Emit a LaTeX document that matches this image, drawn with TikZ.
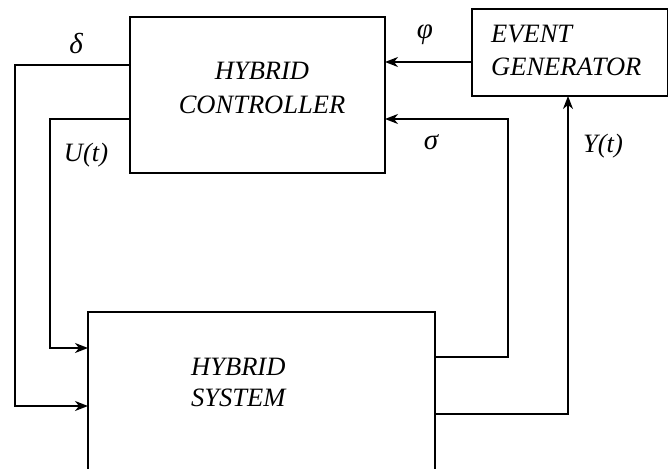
\documentclass[tikz,border=0pt]{standalone}
\usepackage{fontspec}
\setmainfont{Liberation Serif}
\usetikzlibrary{arrows.meta}
\begin{document}
\begin{tikzpicture}[x=1pt,y=-1pt,
  blk/.style={draw,line width=1.8pt,inner sep=0pt},
  wire/.style={line width=1.6pt},
  arr/.style={wire,-{Stealth[length=13pt,width=10pt,inset=4pt]}},
  lbl/.style={font=\fontsize{26.5}{33}\selectfont\itshape,inner sep=0pt,align=left},
  glbl/.style={font=\fontsize{29}{33}\selectfont\itshape,inner sep=0pt}]
\useasboundingbox (0,0) rectangle (668,468);
% boxes
\node[blk,minimum width=255pt,minimum height=156pt] (hc) at (257.5,95) {};
\node[blk,minimum width=196pt,minimum height=87pt] (eg) at (570,52.5) {};
\node[blk,minimum width=347pt,minimum height=170pt] (hs) at (261.5,397) {};
% texts
\node[lbl,align=center,font=\fontsize{26.5}{34}\selectfont\itshape] (thc) at (262,88) {HYBRID\\CONTROLLER};
\node[lbl,anchor=west] (teg) at (491,50) {EVENT\\GENERATOR};
\node[lbl,anchor=west,font=\fontsize{26.5}{31}\selectfont\itshape] (ths) at (191,382) {HYBRID\\SYSTEM};
% coordinates
\coordinate (d0) at (130,65);
\coordinate (d1) at (15,65);
\coordinate (d2) at (15,406);
\coordinate (d3) at (88,406);
\coordinate (u0) at (130,119);
\coordinate (u1) at (50,119);
\coordinate (u2) at (50,348);
\coordinate (u3) at (88,348);
\coordinate (s0) at (435,357);
\coordinate (s1) at (508,357);
\coordinate (s2) at (508,119);
\coordinate (s3) at (385,119);
\coordinate (y0) at (435,414);
\coordinate (y1) at (568,414);
\coordinate (y2) at (568,96);
\coordinate (f0) at (472,62);
\coordinate (f1) at (385,62);
% connectors
\draw[arr] (d0) -- (d1) -- (d2) -- (d3);
\draw[arr] (u0) -- (u1) -- (u2) -- (u3);
\draw[arr] (s0) -- (s1) -- (s2) -- (s3);
\draw[arr] (y0) -- (y1) -- (y2);
\draw[arr] (f0) -- (f1);
% labels
\node[glbl] (ld) at (76,44) {δ};
\node[lbl] (lu) at (86,155) {U(t)};
\node[glbl] (lf) at (425,35) {φ};
\node[glbl] (ls) at (431,142) {σ};
\node[lbl] (ly) at (603,146) {Y(t)};
\end{tikzpicture}
\end{document}
